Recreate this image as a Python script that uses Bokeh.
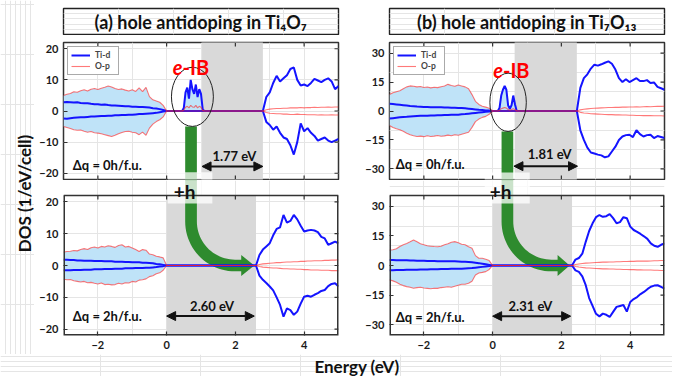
import numpy as np
from bokeh.plotting import figure
from bokeh.models import Range1d, LinearAxis, FixedTicker, Arrow, NormalHead
from bokeh.layouts import row, column
from bokeh.embed import file_html
from bokeh.resources import INLINE
from bokeh.core.properties import value

FONT = "Lato"

# ---------------- data ----------------
VB_E = [round(-3.0 + 0.1 * i, 1) for i in range(31)]   # -3.0 ... 0.0 eV

# (a) Ti4O7, dq = 0h/f.u.
A0_VB_TI_UP = [2.8, 2.9, 2.8, 2.7, 2.8, 2.6, 2.5, 2.5, 2.3, 2.2, 2.2, 2.0, 2.1, 1.9, 1.8, 1.8,
               1.7, 1.6, 1.5, 1.5, 1.4, 1.4, 1.3, 1.3, 1.2, 1.1, 0.9, 0.8, 0.6, 0.3, 0.0]
A0_VB_TI_DN = [-2.4, -2.5, -2.3, -2.2, -2.1, -2.0, -2.0, -1.9, -1.8, -1.8, -1.7, -1.6, -1.6, -1.5,
               -1.5, -1.4, -1.4, -1.3, -1.3, -1.2, -1.2, -1.1, -1.0, -1.0, -0.9, -0.8, -0.7, -0.6,
               -0.4, -0.2, 0.0]
A0_VB_OP_UP = [5.0, 5.4, 5.6, 6.2, 6.0, 6.5, 6.8, 6.4, 7.0, 7.2, 6.9, 7.3, 7.6, 8.0, 7.7, 7.2,
               6.9, 7.1, 6.7, 6.4, 6.8, 6.3, 7.4, 6.2, 7.6, 4.6, 3.6, 3.2, 2.8, 1.8, 0.0]
A0_VB_OP_DN = [-5.0, -5.3, -5.6, -6.0, -6.2, -6.1, -6.5, -6.8, -6.6, -7.0, -7.1, -7.3, -7.6, -7.9,
               -8.2, -7.8, -7.3, -6.9, -6.6, -6.5, -6.8, -7.0, -7.6, -6.8, -7.8, -5.5, -4.2, -3.4,
               -2.8, -1.9, 0.0]
A0_IB_E = [0.45, 0.50, 0.55, 0.60, 0.65, 0.70, 0.75, 0.80, 0.85, 0.90, 0.95, 1.00, 1.05, 1.10]
A0_IB_TI_UP = [0.0, 1.0, 6.0, 7.5, 4.0, 10.0, 7.0, 5.5, 8.5, 4.5, 7.0, 5.5, 0.5, 0.0]
A0_IB_OP_UP = [0.0, 0.3, 1.2, 1.5, 1.0, 1.8, 1.3, 1.2, 1.8, 1.0, 1.5, 1.2, 0.2, 0.0]
A0_EC = 2.80
A0_CB_TI_UP = [0.0, 4.5, 6.0, 9.0, 11.3, 9.5, 10.5, 11.5, 13.5, 14.0, 10.0, 8.2, 8.5, 8.0, 9.0,
               10.3, 9.8, 9.3, 10.0, 10.5, 9.5, 7.0, 8.0]
A0_CB_TI_DN = [0.0, -3.5, -4.5, -6.0, -5.0, -7.0, -8.5, -9.0, -11.0, -14.0, -10.0, -4.0, -6.5,
               -5.5, -7.0, -8.0, -9.5, -9.0, -8.5, -9.5, -10.0, -9.5, -9.0]
A0_CB_OP_UP = [0.0, 0.4, 0.6, 0.7, 0.8, 0.8, 0.9, 0.9, 1.0, 1.0, 1.0, 1.1, 1.0, 1.1, 1.1, 1.2,
               1.1, 1.2, 1.2, 1.3, 1.2, 1.3, 1.3]
A0_CB_OP_DN = [0.0, -0.5, -0.7, -0.8, -0.9, -0.9, -1.0, -1.0, -1.1, -1.1, -1.0, -1.1, -1.1, -1.2,
               -1.2, -1.2, -1.3, -1.2, -1.3, -1.3, -1.2, -1.3, -1.3]

# (a) Ti4O7, dq = 2h/f.u.
A2_VB_TI_UP = [1.8, 1.8, 1.7, 1.7, 1.6, 1.6, 1.5, 1.5, 1.5, 1.4, 1.4, 1.4, 1.3, 1.3, 1.3, 1.2,
               1.2, 1.2, 1.1, 1.1, 1.0, 1.0, 1.0, 0.9, 0.9, 0.8, 0.7, 0.5, 0.4, 0.2, 0.0]
A2_VB_TI_DN = [-1.5, -1.5, -1.5, -1.4, -1.4, -1.4, -1.3, -1.3, -1.3, -1.2, -1.2, -1.2, -1.1, -1.1,
               -1.1, -1.0, -1.0, -1.0, -0.9, -0.9, -0.9, -0.8, -0.8, -0.8, -0.7, -0.7, -0.6, -0.5,
               -0.3, -0.2, 0.0]
A2_VB_OP_UP = [4.2, 4.4, 4.5, 4.7, 4.6, 5.0, 5.3, 5.0, 5.6, 5.8, 5.5, 6.0, 5.8, 6.2, 6.0, 5.7,
               6.3, 6.5, 5.8, 6.0, 5.5, 5.0, 4.4, 5.0, 4.8, 3.6, 3.4, 2.9, 2.7, 2.4, 0.0]
A2_VB_OP_DN = [-4.3, -4.5, -4.4, -4.8, -5.0, -5.2, -5.0, -5.4, -5.3, -5.6, -5.8, -5.5, -6.0, -5.9,
               -6.1, -6.0, -5.6, -5.8, -5.4, -5.5, -5.0, -5.2, -4.6, -4.5, -4.2, -3.5, -3.2, -2.6,
               -2.3, -1.5, 0.0]
A2_EC = 2.60
A2_CB_TI_UP = [0.0, 3.3, 5.0, 6.0, 7.0, 9.5, 11.5, 12.0, 15.9, 13.5, 14.0, 15.9, 14.5, 12.5,
               10.7, 11.0, 11.2, 11.0, 10.5, 9.0, 8.5, 6.5, 7.0, 7.5, 7.0]
A2_CB_TI_DN = [0.0, -3.2, -4.5, -5.5, -6.6, -7.8, -10.0, -12.4, -16.1, -13.5, -14.0, -15.5, -14.5,
               -12.0, -9.8, -9.5, -9.8, -9.2, -8.7, -8.0, -7.7, -6.5, -5.8, -5.6, -6.6]
A2_CB_OP_UP = [0.0, 0.3, 0.5, 0.6, 0.7, 0.8, 0.9, 0.9, 1.0, 1.1, 1.1, 1.2, 1.2, 1.3, 1.3, 1.4,
               1.4, 1.5, 1.5, 1.5, 1.6, 1.6, 1.7, 1.7, 1.8]
A2_CB_OP_DN = [0.0, -0.3, -0.5, -0.6, -0.7, -0.8, -0.8, -0.9, -1.0, -1.0, -1.1, -1.1, -1.2, -1.2,
               -1.3, -1.3, -1.4, -1.4, -1.4, -1.5, -1.5, -1.5, -1.6, -1.6, -1.6]

# (b) Ti7O13, dq = 0h/f.u.
B0_VB_TI_UP = [3.8, 3.6, 3.4, 3.2, 3.0, 2.8, 2.6, 2.5, 2.3, 2.2, 2.1, 2.1, 2.0, 2.0, 1.9, 1.9,
               1.8, 1.8, 1.7, 1.7, 1.6, 1.5, 1.4, 1.2, 1.0, 0.8, 0.6, 0.5, 0.3, 0.2, 0.0]
B0_VB_TI_DN = [-3.9, -3.7, -3.5, -3.3, -3.1, -3.0, -2.8, -2.7, -2.6, -2.5, -2.4, -2.4, -2.3, -2.3,
               -2.2, -2.2, -2.1, -2.1, -2.0, -2.0, -1.9, -1.7, -1.6, -1.4, -1.2, -1.0, -0.8, -0.6,
               -0.4, -0.3, 0.0]
B0_VB_OP_UP = [8.5, 9.5, 10.0, 10.5, 11.5, 12.5, 13.0, 12.8, 12.5, 12.7, 12.2, 12.4, 12.0, 12.3,
               12.1, 12.6, 13.0, 13.8, 13.2, 12.8, 13.5, 13.0, 12.5, 11.5, 8.5, 5.0, 3.4, 2.5, 2.0,
               1.4, 0.0]
B0_VB_OP_DN = [-7.5, -8.5, -9.2, -9.7, -10.5, -11.5, -12.3, -12.8, -13.2, -13.0, -13.3, -12.8,
               -13.2, -13.0, -12.7, -13.1, -12.9, -12.5, -12.8, -12.3, -12.6, -12.0, -11.5, -11.0,
               -8.5, -5.5, -4.2, -3.3, -2.8, -1.7, 0.0]
B0_IB_E = [0.15, 0.20, 0.25, 0.30, 0.35, 0.40, 0.45, 0.50, 0.55, 0.60, 0.65, 0.70]
B0_IB_TI_UP = [0.0, 1.5, 8.0, 11.0, 13.0, 11.0, 3.0, 1.2, 3.0, 8.0, 3.5, 0.0]
B0_IB_OP_UP = [0.0, 0.3, 1.2, 1.5, 1.8, 1.5, 0.8, 0.5, 0.8, 1.2, 0.8, 0.0]
B0_EC = 2.45
B0_CB_TI_UP = [0.0, 12.0, 17.0, 19.0, 22.0, 24.0, 23.5, 24.2, 25.0, 25.7, 24.5, 21.5, 17.0, 15.0,
               16.5, 15.0, 16.0, 17.0, 15.5, 15.5, 16.0, 14.5, 14.8, 12.5, 11.8, 11.0]
B0_CB_TI_DN = [0.0, -10.0, -15.0, -19.0, -21.5, -22.0, -22.6, -23.0, -24.0, -23.5, -21.0, -18.5,
               -15.0, -13.2, -12.5, -12.3, -13.5, -10.0, -12.0, -13.2, -12.5, -12.3, -14.0, -13.0,
               -13.5, -14.0]
B0_CB_OP_UP = [0.0, 0.6, 0.9, 1.1, 1.3, 1.4, 1.5, 1.6, 1.7, 1.8, 1.8, 1.9, 1.9, 2.0, 2.0, 2.1,
               2.1, 2.2, 2.1, 2.2, 2.3, 2.2, 2.3, 2.4, 2.4, 2.5]
B0_CB_OP_DN = [0.0, -0.7, -1.0, -1.2, -1.4, -1.5, -1.6, -1.7, -1.8, -1.9, -1.9, -2.0, -2.0, -2.1,
               -2.1, -2.2, -2.2, -2.3, -2.3, -2.4, -2.4, -2.4, -2.5, -2.5, -2.5, -2.6]

# (b) Ti7O13, dq = 2h/f.u.
B2_VB_TI_UP = [2.8, 2.8, 2.7, 2.7, 2.6, 2.6, 2.5, 2.5, 2.4, 2.4, 2.4, 2.3, 2.3, 2.3, 2.2, 2.2,
               2.2, 2.2, 2.1, 2.1, 2.0, 1.9, 1.9, 1.8, 1.6, 1.4, 1.2, 0.9, 0.6, 0.3, 0.0]
B2_VB_TI_DN = [-2.4, -2.4, -2.3, -2.3, -2.3, -2.2, -2.2, -2.1, -2.1, -2.0, -2.0, -2.0, -1.9, -1.9,
               -1.9, -1.8, -1.8, -1.8, -1.7, -1.7, -1.6, -1.6, -1.5, -1.4, -1.3, -1.1, -0.9, -0.7,
               -0.5, -0.3, 0.0]
B2_VB_OP_UP = [7.8, 8.0, 8.5, 9.6, 10.5, 11.2, 12.0, 12.9, 12.0, 11.0, 10.5, 10.0, 9.8, 9.6, 9.5,
               9.8, 10.5, 11.0, 11.8, 12.1, 11.5, 10.8, 10.5, 9.5, 8.8, 5.0, 3.7, 3.7, 3.2, 2.5, 0.0]
B2_VB_OP_DN = [-7.3, -7.8, -8.5, -9.5, -10.2, -10.7, -11.0, -11.5, -11.2, -11.0, -11.4, -11.6,
               -11.8, -11.5, -11.6, -11.2, -11.0, -10.8, -11.0, -10.5, -10.0, -9.5, -9.5, -9.0,
               -8.0, -4.8, -3.8, -3.5, -3.1, -2.0, 0.0]
B2_EC = 2.31
B2_CB_TI_UP = [0.0, 3.0, 3.8, 6.0, 12.0, 17.5, 21.4, 24.5, 25.6, 24.7, 25.0, 26.1, 24.0, 21.4,
               22.0, 24.5, 24.0, 19.7, 18.0, 17.1, 16.0, 14.8, 13.5, 11.2, 10.0, 9.5, 10.5, 11.2]
B2_CB_TI_DN = [0.0, -2.5, -3.2, -5.5, -10.0, -16.5, -20.5, -24.5, -25.8, -24.4, -25.0, -26.1,
               -23.5, -21.0, -20.5, -20.0, -23.4, -18.5, -17.0, -16.0, -14.5, -13.4, -12.0, -10.8,
               -10.2, -10.0, -10.8, -11.7]
B2_CB_OP_UP = [0.0, 0.5, 0.8, 1.0, 1.2, 1.3, 1.4, 1.5, 1.6, 1.7, 1.7, 1.8, 1.8, 1.9, 1.9, 2.0,
               2.0, 2.1, 2.1, 2.2, 2.2, 2.3, 2.2, 2.3, 2.4, 2.4, 2.5, 2.5]
B2_CB_OP_DN = [0.0, -0.5, -0.8, -1.0, -1.2, -1.3, -1.4, -1.5, -1.6, -1.7, -1.7, -1.8, -1.8, -1.9,
               -1.9, -2.0, -2.0, -2.1, -2.1, -2.2, -2.2, -2.3, -2.3, -2.3, -2.4, -2.4, -2.5, -2.5]

E_MAX = 5.0
TITLES = ["(a) hole antidoping in Ti\u2084O\u2087", "(b) hole antidoping in Ti\u2087O\u2081\u2083"]
DQ_LABELS = ["\u0394q = 0h/f.u.", "\u0394q = 2h/f.u."]
GAP_LABELS = {"a0": "1.77 eV", "a2": "2.60 eV", "b0": "1.81 eV", "b2": "2.31 eV"}
X_TICKS = [-2, 0, 2, 4]
Y_TICKS_A = [-20, -10, 0, 10, 20]
Y_TICKS_B = [-30, -15, 0, 15, 30]

# ---------------- styles / layout ----------------
C_TI = "#1414ff"
C_OP = "#ff2020"
C_FILL = "#bfe3f8"
C_GAP = "#d9d9d9"
C_GREEN = "#2e8b2e"
C_FRAME = "#333333"
C_TEXT = "#111111"
FRAME_W = 275
X_RANGE = (-3.0, 5.0)
SX = FRAME_W / (X_RANGE[1] - X_RANGE[0])
TICK_LEN = 4.0
COLS = {"a": dict(left=29, right=7, ylim=22.0, yticks=Y_TICKS_A),
        "b": dict(left=44, right=8, ylim=35.5, yticks=Y_TICKS_B)}
YLAB_W = 34
TITLE = dict(top=8, frame=26, bottom=1)
TOP = dict(top=7, frame=137, bottom=1)
BOT = dict(top=0, gap=15, frame=140, bottom=19)
ENERGY_H = 22


def minus(v):
    return ("%g" % v).replace("-", "\u2212")


def style_axis(ax, ticks):
    ax.ticker = FixedTicker(ticks=ticks)
    ax.axis_line_color = None
    ax.major_tick_in = int(TICK_LEN)
    ax.major_tick_out = 0
    ax.minor_tick_line_color = None
    ax.major_tick_line_color = C_FRAME
    ax.major_tick_line_width = 1.2
    ax.major_label_text_font = FONT
    ax.major_label_text_font_style = "bold"
    ax.major_label_text_font_size = "11px"
    ax.major_label_text_color = "#1a1a1a"
    ax.major_label_standoff = 5
    ax.major_label_overrides = {t: minus(t) for t in ticks}


def inner_ticks(p, sy, y_lo, y_hi, yticks, bottom_ticks):
    """inward ticks on the top, right (and optionally bottom) edge of a panel box"""
    kw = dict(line_color=C_FRAME, line_width=1.2)
    n = len(X_TICKS)
    p.segment(x0=X_TICKS, y0=[y_hi] * n, x1=X_TICKS, y1=[y_hi - TICK_LEN / sy] * n, **kw)
    if bottom_ticks:
        p.segment(x0=X_TICKS, y0=[y_lo] * n, x1=X_TICKS, y1=[y_lo + TICK_LEN / sy] * n, **kw)
    m = len(yticks)
    p.segment(x0=[X_RANGE[1]] * m, y0=yticks, x1=[X_RANGE[1] - TICK_LEN / SX] * m, y1=yticks,
              **kw)


def make_top_panel(col):
    c = COLS[col]
    p = figure(width=c["left"] + FRAME_W + c["right"],
               height=TOP["top"] + TOP["frame"] + TOP["bottom"],
               x_range=Range1d(*X_RANGE), y_range=Range1d(-c["ylim"], c["ylim"]),
               output_backend="svg", toolbar_location=None,
               x_axis_location=None, y_axis_location=None,
               min_border_left=c["left"], min_border_right=c["right"],
               min_border_top=TOP["top"], min_border_bottom=TOP["bottom"])
    p.outline_line_color = C_FRAME
    p.outline_line_width = 1.5
    ax = LinearAxis()
    style_axis(ax, c["yticks"])
    p.add_layout(ax, "left")
    return p


def make_bottom_panel(col):
    # the frame also holds the narrow gap above the panel box (for the +h arrow)
    c = COLS[col]
    sy = BOT["frame"] / (2 * c["ylim"])
    y_top = c["ylim"] + BOT["gap"] / sy
    p = figure(width=c["left"] + FRAME_W + c["right"],
               height=BOT["top"] + BOT["gap"] + BOT["frame"] + BOT["bottom"],
               x_range=Range1d(*X_RANGE), y_range=Range1d(-c["ylim"], y_top),
               output_backend="svg", toolbar_location=None,
               x_axis_location=None, y_axis_location=None,
               min_border_left=c["left"], min_border_right=c["right"],
               min_border_top=BOT["top"], min_border_bottom=BOT["bottom"])
    p.outline_line_color = None
    ax = LinearAxis()
    style_axis(ax, c["yticks"])
    p.add_layout(ax, "left")
    ax = LinearAxis()
    style_axis(ax, X_TICKS)
    p.add_layout(ax, "below")
    return p, sy


def panel_box(p, ylim):
    # left / bottom / right edges sit on the frame edge (half clipped -> doubled width)
    p.line(x=[X_RANGE[0], X_RANGE[0], X_RANGE[1], X_RANGE[1]], y=[ylim, -ylim, -ylim, ylim],
           line_color=C_FRAME, line_width=3.0)
    p.line(x=[X_RANGE[0], X_RANGE[1]], y=[ylim, ylim], line_color=C_FRAME, line_width=1.5)


def curves(vb, cb, ec, ib=None):
    ti_up, ti_dn, op_up, op_dn = [list(a) for a in vb]
    x = list(VB_E)
    if ib is not None:
        ib_e, ib_ti, ib_op = ib
        x += list(ib_e)
        ti_up += list(ib_ti)
        op_up += list(ib_op)
        ti_dn += [0.0] * len(ib_e)
        op_dn += [0.0] * len(ib_e)
    n_occ = len(x)
    cb_e = np.linspace(ec, E_MAX, len(cb[0]))
    x += list(cb_e)
    ti_up += list(cb[0]); ti_dn += list(cb[1]); op_up += list(cb[2]); op_dn += list(cb[3])
    return dict(x=np.array(x), ti_up=np.array(ti_up), ti_dn=np.array(ti_dn),
                op_up=np.array(op_up), op_dn=np.array(op_dn), n_occ=n_occ)


def draw_background(p, d, gap, top):
    p.quad(left=gap[0], right=gap[1], bottom=-200, top=top, fill_color=C_GAP, line_color=None)
    n = d["n_occ"]
    upper = np.maximum(d["ti_up"][:n], d["op_up"][:n])
    lower = np.minimum(d["ti_dn"][:n], d["op_dn"][:n])
    p.varea(x=d["x"][:n], y1=lower, y2=upper, fill_color=C_FILL)


def draw_lines(p, d, legend):
    kw_ti = dict(line_color=C_TI, line_width=2.0)
    kw_op = dict(line_color=C_OP, line_width=1.1, line_alpha=0.6)
    if legend:
        p.line(d["x"], d["ti_up"], legend_label="Ti-d", **kw_ti)
    else:
        p.line(d["x"], d["ti_up"], **kw_ti)
    p.line(d["x"], d["ti_dn"], **kw_ti)
    if legend:
        p.line(d["x"], d["op_up"], legend_label="O-p", **kw_op)
    else:
        p.line(d["x"], d["op_up"], **kw_op)
    p.line(d["x"], d["op_dn"], **kw_op)
    if legend:
        lg = p.legend[0]
        lg.location = "top_left"
        lg.margin = 4
        lg.padding = 3
        lg.spacing = 1
        lg.glyph_width = 19
        lg.glyph_height = 10
        lg.label_height = 10
        lg.label_standoff = 5
        lg.label_text_font = FONT
        lg.label_text_font_style = "bold"
        lg.label_text_font_size = "8.5px"
        lg.border_line_color = "#555555"
        lg.border_line_width = 1
        lg.background_fill_alpha = 1.0


def text(p, x, y, s, size, align="left", baseline="middle", color=C_TEXT, style="bold"):
    p.text(x=[x], y=[y], text=[s], text_font=value(FONT), text_font_style=style,
           text_font_size=size, text_color=color, text_align=align, text_baseline=baseline)


def gap_arrow(p, x0, x1, y):
    head = dict(size=9, fill_color=C_TEXT, line_color=C_TEXT)
    p.add_layout(Arrow(x_start=x0, y_start=y, x_end=x1, y_end=y, line_width=2,
                       line_color=C_TEXT, start=NormalHead(**head), end=NormalHead(**head)))


def curved_arrow(p, xb, x_base, x_tip, sy, y_top, w_px=11.7, r_px=44.0, hh_px=10.5):
    hw = w_px / 2.0
    pts = [(-hw, y_top * sy), (-hw, r_px)]
    for t in np.linspace(np.pi, 1.5 * np.pi, 24):
        pts.append((r_px + (r_px + hw) * np.cos(t), r_px + (r_px + hw) * np.sin(t)))
    bx = (x_base - xb) * SX
    tx = (x_tip - xb) * SX
    pts += [(bx, -hw), (bx, -hh_px), (tx, 0.0), (bx, hh_px), (bx, hw)]
    for t in np.linspace(1.5 * np.pi, np.pi, 24):
        pts.append((r_px + (r_px - hw) * np.cos(t), r_px + (r_px - hw) * np.sin(t)))
    pts.append((hw, y_top * sy))
    xs = [xb + dx / SX for dx, dy in pts]
    ys = [dy / sy for dx, dy in pts]
    p.patch(xs, ys, fill_color=C_GREEN, line_color=None)


def title_fig(col, s):
    c = COLS[col]
    p = figure(width=c["left"] + FRAME_W + c["right"],
               height=TITLE["top"] + TITLE["frame"] + TITLE["bottom"],
               x_range=Range1d(0, 1), y_range=Range1d(0, 1), output_backend="svg",
               toolbar_location=None, x_axis_location=None, y_axis_location=None,
               min_border_left=c["left"], min_border_right=c["right"],
               min_border_top=TITLE["top"], min_border_bottom=TITLE["bottom"])
    p.outline_line_color = "#222222"
    p.outline_line_width = 1.4
    p.text(x=[0.5], y=[0.5], text=[s], text_font=value(FONT), text_font_style="bold",
           text_font_size="18px", text_align="center", text_baseline="middle",
           text_color=C_TEXT)
    return p


# ---------------- panels ----------------
panel_data = {
    "a0": curves((A0_VB_TI_UP, A0_VB_TI_DN, A0_VB_OP_UP, A0_VB_OP_DN),
                 (A0_CB_TI_UP, A0_CB_TI_DN, A0_CB_OP_UP, A0_CB_OP_DN), A0_EC,
                 (A0_IB_E, A0_IB_TI_UP, A0_IB_OP_UP)),
    "a2": curves((A2_VB_TI_UP, A2_VB_TI_DN, A2_VB_OP_UP, A2_VB_OP_DN),
                 (A2_CB_TI_UP, A2_CB_TI_DN, A2_CB_OP_UP, A2_CB_OP_DN), A2_EC),
    "b0": curves((B0_VB_TI_UP, B0_VB_TI_DN, B0_VB_OP_UP, B0_VB_OP_DN),
                 (B0_CB_TI_UP, B0_CB_TI_DN, B0_CB_OP_UP, B0_CB_OP_DN), B0_EC,
                 (B0_IB_E, B0_IB_TI_UP, B0_IB_OP_UP)),
    "b2": curves((B2_VB_TI_UP, B2_VB_TI_DN, B2_VB_OP_UP, B2_VB_OP_DN),
                 (B2_CB_TI_UP, B2_CB_TI_DN, B2_CB_OP_UP, B2_CB_OP_DN), B2_EC),
}

# annotation geometry (data units of each panel)
TOP_ANN = {
    "a": dict(gap=(1.03, A0_EC), ell=(0.75, 4.55, 1.22, 19.0), bar=(0.54, 0.88),
              box=(0.03, 1.33, -19.7), eib=(0.465, 14.1), dq=(-2.73, -17.2),
              glab=(1.97, -14.3), garr=(1.03, 2.80, -17.8), key="a0"),
    "b": dict(gap=(0.64, B0_EC), ell=(0.45, 4.5, 1.06, 30.2), bar=(0.26, 0.60),
              box=(-0.23, 1.08, -31.9), eib=(0.30, 21.0), dq=(-2.82, -27.7),
              glab=(1.66, -22.5), garr=(0.62, 2.47, -28.6), key="b0"),
}
BOT_ANN = {
    "a": dict(gap=(0.0, A2_EC), xb=0.71, head=(2.17, 2.55), plus=(0.52, 23.3),
              box=(0.03, 1.33, 19.5), dq=(-2.73, -16.0), glab=(1.32, -12.6),
              garr=(0.0, 2.55, -15.9), key="a2"),
    "b": dict(gap=(0.0, B2_EC), xb=0.43, head=(1.89, 2.24), plus=(0.23, 37.6),
              box=(-0.23, 1.08, 31.4), dq=(-2.82, -25.9), glab=(1.10, -20.3),
              garr=(0.0, 2.27, -25.7), key="b2"),
}

columns = []
for i, col in enumerate(["a", "b"]):
    ylim = COLS[col]["ylim"]
    # ---- top panel (0h) ----
    t = TOP_ANN[col]
    pt = make_top_panel(col)
    sy_t = TOP["frame"] / (2 * ylim)
    d = panel_data[t["key"]]
    draw_background(pt, d, t["gap"], 200)
    pt.quad(left=t["bar"][0], right=t["bar"][1], top=t["ell"][1] - t["ell"][3] / 2,
            bottom=-200, fill_color=C_GREEN, line_color=None)
    draw_lines(pt, d, True)
    pt.ellipse(x=[t["ell"][0]], y=[t["ell"][1]], width=[t["ell"][2]], height=[t["ell"][3]],
               fill_color=None, line_color="#222222", line_width=1.0)
    pt.quad(left=t["box"][0], right=t["box"][1], top=t["box"][2], bottom=-200,
            fill_color="white", fill_alpha=0.75, line_color=None)
    inner_ticks(pt, sy_t, -ylim, ylim, COLS[col]["yticks"], True)
    text(pt, t["eib"][0], t["eib"][1], "e", "20px", align="right", baseline="alphabetic",
         color="#ff0000", style="bold italic")
    text(pt, t["eib"][0], t["eib"][1], "-IB", "20px", align="left", baseline="alphabetic",
         color="#ff0000")
    text(pt, t["dq"][0], t["dq"][1], DQ_LABELS[0], "13px")
    text(pt, t["glab"][0], t["glab"][1], GAP_LABELS[t["key"]], "13px", align="center")
    gap_arrow(pt, *t["garr"])

    # ---- bottom panel (2h) ----
    b = BOT_ANN[col]
    pb, sy = make_bottom_panel(col)
    d = panel_data[b["key"]]
    draw_background(pb, d, b["gap"], ylim)
    curved_arrow(pb, b["xb"], b["head"][0], b["head"][1], sy, ylim * 3)
    draw_lines(pb, d, False)
    pb.quad(left=b["box"][0], right=b["box"][1], bottom=b["box"][2], top=ylim * 3,
            fill_color="white", fill_alpha=0.75, line_color=None)
    panel_box(pb, ylim)
    inner_ticks(pb, sy, -ylim, ylim, COLS[col]["yticks"], False)
    text(pb, b["plus"][0], b["plus"][1], "+h", "19px", align="center")
    text(pb, b["dq"][0], b["dq"][1], DQ_LABELS[1], "13px")
    text(pb, b["glab"][0], b["glab"][1], GAP_LABELS[b["key"]], "13px", align="center")
    gap_arrow(pb, *b["garr"])

    columns.append(column(title_fig(col, TITLES[i]), pt, pb, spacing=0))

BODY_H = (sum(TITLE.values()) + sum(TOP.values()) + sum(BOT.values()))
ylab = figure(width=YLAB_W, height=BODY_H, x_range=Range1d(0, YLAB_W),
              y_range=Range1d(0, BODY_H), output_backend="svg", toolbar_location=None,
              x_axis_location=None, y_axis_location=None, min_border=0)
ylab.outline_line_color = None
ylab.text(x=[23.5], y=[BODY_H - 193], text=["DOS (1/eV/cell)"], angle=np.pi / 2,
          text_font=value(FONT), text_font_style="bold", text_font_size="17px",
          text_align="center", text_baseline="middle", text_color=C_TEXT)

TOTAL_W = YLAB_W + sum(COLS[c]["left"] + FRAME_W + COLS[c]["right"] for c in COLS)
xlab = figure(width=TOTAL_W, height=ENERGY_H, x_range=Range1d(0, TOTAL_W),
              y_range=Range1d(0, ENERGY_H), output_backend="svg", toolbar_location=None,
              x_axis_location=None, y_axis_location=None, min_border=0)
xlab.outline_line_color = None
xlab.text(x=[356.5], y=[ENERGY_H - 12.0], text=["Energy (eV)"], text_font=value(FONT),
          text_font_style="bold", text_font_size="17px", text_align="center",
          text_baseline="alphabetic", text_color=C_TEXT)

layout = column(row(ylab, columns[0], columns[1], spacing=0), xlab, spacing=0)

open("out.html", "w").write(file_html(layout, INLINE))
